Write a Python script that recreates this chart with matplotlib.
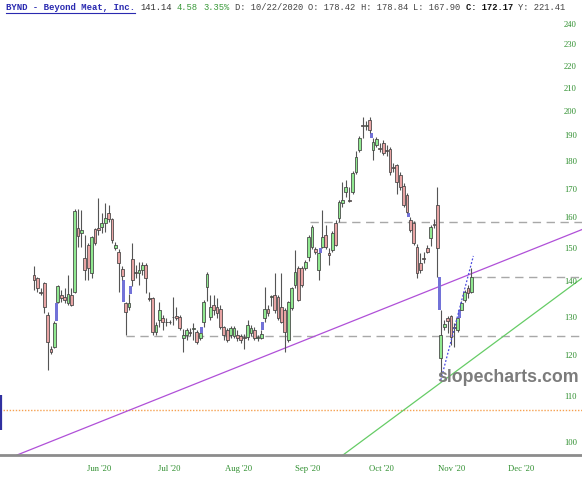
import matplotlib
matplotlib.use("Agg")
import matplotlib.pyplot as plt
import numpy as np
from matplotlib.patches import Rectangle
from matplotlib.lines import Line2D
from matplotlib.ticker import FixedLocator, FixedFormatter, NullLocator
from matplotlib.transforms import IdentityTransform

# ---------------- data (BYND daily OHLC) ----------------
opens = [141.8, 140.9, 136.9, 139.5, 130.4, 121.5, 122.0, 134.0, 136.0, 135.4,
         133.7, 136.0, 136.8, 156.5, 154.9, 147.0, 151.0, 142.4, 156.2, 156.5,
         156.9, 158.2, 161.5, 159.5, 150.0, 148.8, 143.6, 133.7, 132.6, 146.7,
         142.7, 142.4, 143.3, 144.8, 135.1, 135.1, 125.8, 129.0, 129.6, 128.6,
         128.4, 130.0, 130.1, 129.8, 124.3, 125.0, 125.9, 126.6, 125.8, 124.3,
         128.4, 138.3, 129.8, 133.1, 132.6, 132.0, 127.2, 126.4, 125.0, 124.8,
         125.0, 124.8, 124.6, 124.6, 125.5, 126.4, 124.4, 124.3, 129.6, 132.0,
         135.4, 136.0, 135.4, 132.6, 131.8, 123.8, 132.3, 138.9, 143.9, 143.9,
         143.9, 147.3, 150.4, 149.8, 143.3, 150.4, 154.2, 148.5, 149.5, 158.2,
         159.8, 164.9, 168.7, 166.0, 168.7, 175.9, 184.3, 194.2, 193.8, 196.3,
         184.3, 186.2, 185.0, 187.0, 184.3, 184.7, 177.8, 178.42, 174.8, 170.9,
         167.7, 159.2, 158.2, 150.4, 145.4, 147.0, 150.0, 153.3, 157.9, 164.2,
         119.2, 127.2, 129.6, 130.1, 127.2, 126.4, 131.8, 134.6, 138.0, 136.8]
highs = [144.5, 141.2, 138.0, 139.8, 131.2, 122.2, 128.7, 138.9, 137.4, 138.0,
         141.8, 138.0, 162.8, 162.8, 162.5, 154.2, 151.6, 153.9, 156.5, 166.7,
         161.5, 164.9, 164.2, 159.8, 151.9, 149.8, 144.5, 134.0, 136.3, 151.6,
         144.8, 145.8, 145.8, 145.4, 137.0, 135.4, 128.4, 134.0, 130.4, 129.6,
         129.0, 135.4, 132.6, 130.4, 126.6, 126.9, 126.9, 128.2, 126.4, 125.6,
         134.6, 142.7, 136.0, 136.0, 135.1, 133.1, 127.4, 126.9, 127.4, 127.4,
         126.4, 125.2, 125.2, 129.0, 127.7, 127.2, 125.0, 126.4, 138.3, 133.1,
         136.0, 142.4, 136.0, 142.4, 132.3, 134.3, 138.3, 149.5, 144.5, 144.5,
         146.4, 154.2, 157.5, 150.4, 148.5, 162.5, 157.5, 150.0, 155.5, 159.2,
         166.0, 172.3, 173.0, 170.5, 176.4, 184.0, 189.8, 197.4, 195.8, 197.4,
         189.0, 189.4, 187.0, 188.2, 186.2, 185.4, 179.3, 178.84, 176.0, 172.0,
         168.3, 160.2, 158.8, 151.3, 148.5, 148.8, 151.0, 157.5, 159.5, 170.5,
         131.8, 129.0, 130.1, 130.4, 128.2, 129.7, 134.3, 137.4, 138.9, 143.9]
lows = [137.4, 136.8, 136.0, 131.0, 116.2, 120.2, 121.7, 133.7, 134.0, 133.7,
        133.1, 132.8, 136.5, 150.4, 150.4, 140.3, 140.3, 140.9, 151.0, 154.2,
        154.9, 155.2, 158.5, 151.6, 149.5, 136.8, 140.3, 125.0, 131.8, 138.6,
        140.9, 138.9, 141.8, 136.6, 134.3, 125.0, 125.0, 127.2, 126.4, 127.4,
        127.9, 127.7, 129.0, 126.4, 120.7, 123.8, 124.8, 123.8, 122.8, 123.8,
        127.2, 134.3, 129.0, 130.4, 129.6, 126.6, 123.8, 123.3, 124.3, 124.3,
        123.5, 123.1, 121.5, 123.8, 124.8, 123.8, 123.5, 124.0, 128.4, 130.1,
        133.0, 130.9, 129.0, 128.2, 120.7, 123.3, 131.8, 138.0, 134.3, 138.3,
        143.3, 146.0, 149.8, 148.2, 140.3, 150.0, 149.8, 144.8, 148.8, 150.7,
        158.5, 163.6, 167.0, 165.3, 168.0, 175.1, 183.6, 189.0, 192.2, 191.0,
        180.4, 185.4, 183.6, 182.3, 182.0, 174.8, 176.0, 167.90, 169.4, 163.6,
        161.5, 155.2, 151.0, 140.9, 142.4, 145.4, 148.5, 150.8, 156.5, 141.2,
        115.0, 126.4, 125.5, 122.5, 122.0, 125.8, 131.8, 134.0, 135.1, 136.5]
closes = [140.3, 138.0, 136.6, 132.6, 123.3, 120.7, 128.2, 138.6, 135.1, 134.6,
          136.3, 133.1, 162.2, 153.9, 155.9, 143.3, 143.9, 153.6, 151.6, 156.0,
          158.2, 159.8, 159.5, 152.6, 151.0, 145.4, 141.5, 131.2, 133.7, 140.3,
          142.4, 143.3, 144.8, 140.9, 134.9, 125.8, 127.7, 131.8, 128.4, 128.4,
          128.6, 129.8, 129.6, 126.9, 125.0, 126.4, 125.7, 127.0, 123.3, 125.5,
          134.0, 142.1, 132.6, 131.8, 130.9, 127.2, 125.0, 123.8, 126.9, 126.9,
          124.3, 123.8, 124.4, 127.7, 126.9, 124.3, 124.6, 125.2, 132.0, 130.9,
          135.7, 131.8, 129.6, 128.4, 125.8, 134.0, 138.0, 142.7, 134.6, 138.9,
          145.8, 153.6, 156.9, 148.8, 148.4, 153.6, 150.4, 147.9, 154.9, 151.0,
          165.3, 166.0, 170.5, 165.6, 175.5, 181.5, 189.0, 193.8, 194.2, 192.2,
          187.4, 188.6, 184.8, 183.1, 184.0, 176.0, 177.4, 172.17, 170.5, 164.2,
          161.8, 155.9, 151.6, 142.4, 143.3, 146.7, 148.8, 156.9, 157.5, 150.0,
          125.0, 128.0, 128.7, 124.5, 126.9, 129.6, 133.7, 136.8, 136.56, 141.14]

price_ticks = [100, 110, 120, 130, 140, 150, 160, 170, 180, 190, 200, 210, 220, 230, 240]
month_labels = ["Jun '20", "Jul '20", "Aug '20", "Sep '20", "Oct '20", "Nov '20", "Dec '20"]

header_name = "BYND - Beyond Meat, Inc."
header_pieces = [("141.14", "#333333", "normal"),
                 ("4.58", "#3a9a3a", "normal"),
                 ("3.35%", "#3a9a3a", "normal"),
                 ("D: 10/22/2020", "#444444", "normal"),
                 ("O: 178.42", "#444444", "normal"),
                 ("H: 178.84", "#444444", "normal"),
                 ("L: 167.90", "#444444", "normal"),
                 ("C: 172.17", "#111111", "bold"),
                 ("Y: 221.41", "#444444", "normal")]

# horizontal reference levels
level_hi = 158.6
level_mid = 141.3
level_lo = 124.9
level_orange = 106.9

# ---------------- layout ----------------
W, H = 582, 480
fig = plt.figure(figsize=(W / 100, H / 100), dpi=100)
fig.patch.set_facecolor("white")
ax = fig.add_axes([0, 25 / H, 1, 455 / H])
ax.set_facecolor("white")

n = len(opens)
x = np.arange(n)
o = np.array(opens); h = np.array(highs); l = np.array(lows); c = np.array(closes)

XMIN, XMAX = -10.03, 161.65
ax.set_xlim(XMIN, XMAX)
ax.set_yscale("log")
ax.set_ylim(97.25, 252.4)

# reference lines
dash = dict(color="#a8a8a8", lw=1.0, linestyle=(0, (6, 4)), zorder=1)
ax.hlines(level_hi, 81.5, XMAX, **dash)
ax.hlines(level_mid, 129.6, XMAX, **dash)
ax.hlines(level_lo, 27, XMAX, **dash)
ax.axhline(level_orange, color="#f5a050", lw=1.0, linestyle=(0, (1, 1.2)), zorder=1)

# trend lines
ax.plot([-5.0, 161.65], [97.25, 156.0], color="#b050d8", lw=0.9, zorder=1.5)
ax.plot([91.15, 161.65], [97.25, 140.9], color="#66cc66", lw=0.9, zorder=1.5)

# gap boxes
for i in range(1, n):
    if l[i - 1] > h[i]:
        lo_, hi_ = h[i], l[i - 1]
    elif h[i - 1] < l[i]:
        lo_, hi_ = h[i - 1], l[i]
    else:
        continue
    ax.add_patch(Rectangle((i - 0.95, lo_), 0.9, hi_ - lo_, facecolor="#7272d8",
                           edgecolor="none", zorder=2))

# wicks and bodies
ax.vlines(x, l, h, color="#555555", lw=0.8, zorder=2.5)
up = c >= o
cols = np.where(up, "#90e890", "#e8a4a4")
ax.bar(x, np.abs(c - o), bottom=np.minimum(o, c), width=0.82, color=cols,
       edgecolor="#404040", linewidth=0.55, zorder=3)

# dotted short-term trend line
ax.plot([120.0, 129.6], [113.8, 147.6], color="#4a4ae0", lw=0.9,
        linestyle=(0, (1.5, 1.5)), zorder=4)

# left-edge remnant
ax.vlines(XMIN + 0.25, 102.5, 110.3, color="#3030a0", lw=1.6, zorder=4)

# axes styling
for s in ["top", "left", "right"]:
    ax.spines[s].set_visible(False)
ax.spines["bottom"].set_color("#8c8c8c")
ax.spines["bottom"].set_linewidth(2.0)

ax.yaxis.tick_right()
ax.yaxis.set_major_locator(FixedLocator(price_ticks))
ax.yaxis.set_minor_locator(NullLocator())
ax.yaxis.set_major_formatter(FixedFormatter([str(v) for v in price_ticks]))
ax.tick_params(axis="y", length=0, pad=-12.9, labelsize=6.2, labelcolor="#2f8f2f")
for lbl in ax.get_yticklabels():
    lbl.set_fontfamily("Liberation Serif")
    lbl.set_horizontalalignment("left")

month_pos = [19.3, 39.8, 60.4, 80.6, 102.5, 123.2, 143.6]
ax.set_xticks(month_pos)
ax.set_xticklabels(month_labels)
ax.tick_params(axis="x", length=0, pad=7, labelsize=6.2, labelcolor="#2f8f2f")
for lbl in ax.get_xticklabels():
    lbl.set_fontfamily("Liberation Serif")

# watermark
fig.text(437 / W, 1 - 377 / H, "slopecharts.com", fontsize=12.8, fontweight="bold",
         color="#7c7c7c", family="Liberation Sans", ha="left", va="center", zorder=5)

# header (laid out sequentially, one space between pieces)
ty = 1 - 8 / H
mono = "Liberation Mono"
name = fig.text(6 / W, ty, header_name, fontsize=6.5, fontweight="bold",
                color="#2a2ab0", family=mono, ha="left", va="center")
fig.canvas.draw()
renderer = fig.canvas.get_renderer()
bb = name.get_window_extent(renderer)
fig.add_artist(Line2D([bb.x0, bb.x1], [bb.y0 - 0.5, bb.y0 - 0.5], transform=IdentityTransform(),
                      color="#2a2ab0", lw=0.8))
fs = 6.3
space_px = 0.6 * fs * 100 / 72
cur = bb.x1 + space_px
for s, col, fw in header_pieces:
    t = fig.text(cur / W, ty, s, fontsize=fs, color=col, family=mono, fontweight=fw,
                 ha="left", va="center")
    tb = t.get_window_extent(renderer)
    cur = tb.x1 + space_px

fig.savefig("out.png", dpi=100, facecolor="white")
